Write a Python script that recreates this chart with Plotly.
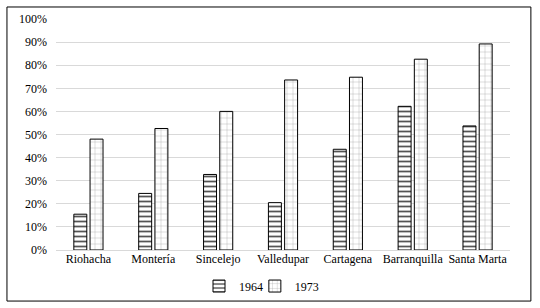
import plotly.graph_objects as go

cities = ["Riohacha", "Montería", "Sincelejo", "Valledupar", "Cartagena", "Barranquilla", "Santa Marta"]
v1964 = [0.155, 0.245, 0.327, 0.205, 0.436, 0.622, 0.537]
v1973 = [0.48, 0.526, 0.60, 0.736, 0.748, 0.826, 0.892]
y_ticks = [i / 10 for i in range(11)]
y_labels = [f"{i*10}%" for i in range(11)]

fig = go.Figure()
fig.add_trace(go.Bar(
    x=cities, y=v1964, name="1964", legend="legend",
    marker=dict(color="white", line=dict(color="black", width=1),
                pattern=dict(shape="-", fgcolor="#555555", bgcolor="white", size=5, solidity=0.35)),
))
fig.add_trace(go.Bar(
    x=cities, y=v1973, name="1973", legend="legend2",
    marker=dict(color="white", line=dict(color="black", width=1),
                pattern=dict(shape="+", fgcolor="#a0a0a0", bgcolor="white", size=6, solidity=0.12)),
))

font = dict(family="'Times New Roman', 'Liberation Serif', serif", size=12, color="black")
leg_common = dict(orientation="h", xanchor="left", y=-0.156, yanchor="middle",
                  font=font, itemwidth=30, bgcolor="rgba(0,0,0,0)", tracegroupgap=0)
fig.update_layout(
    template="none",
    width=540, height=308,
    margin=dict(l=56, r=30, t=19, b=58, autoexpand=False),
    paper_bgcolor="white", plot_bgcolor="white",
    font=font,
    barmode="group", bargap=0.5, bargroupgap=0.2,
    showlegend=True,
    legend=dict(x=0.315, **leg_common),
    legend2=dict(x=0.438, **leg_common),
    xaxis=dict(showgrid=False, showline=False, ticks="", tickfont=font, automargin=False),
    yaxis=dict(range=[0, 1.0], tickvals=y_ticks, ticktext=y_labels, showgrid=True,
               gridcolor="#d9d9d9", gridwidth=1, zeroline=True, zerolinecolor="#d9d9d9",
               showline=False, ticks="", tickfont=font, ticklabelstandoff=8, automargin=False),
    shapes=[dict(type="rect", xref="paper", yref="paper",
                 x0=-0.108, x1=1.046, y0=-0.221, y1=1.052,
                 line=dict(color="black", width=1), fillcolor="rgba(0,0,0,0)", layer="below")],
)
fig.write_html("out.html", config={"displayModeBar": False},
               post_script="document.body.style.margin='0';")
